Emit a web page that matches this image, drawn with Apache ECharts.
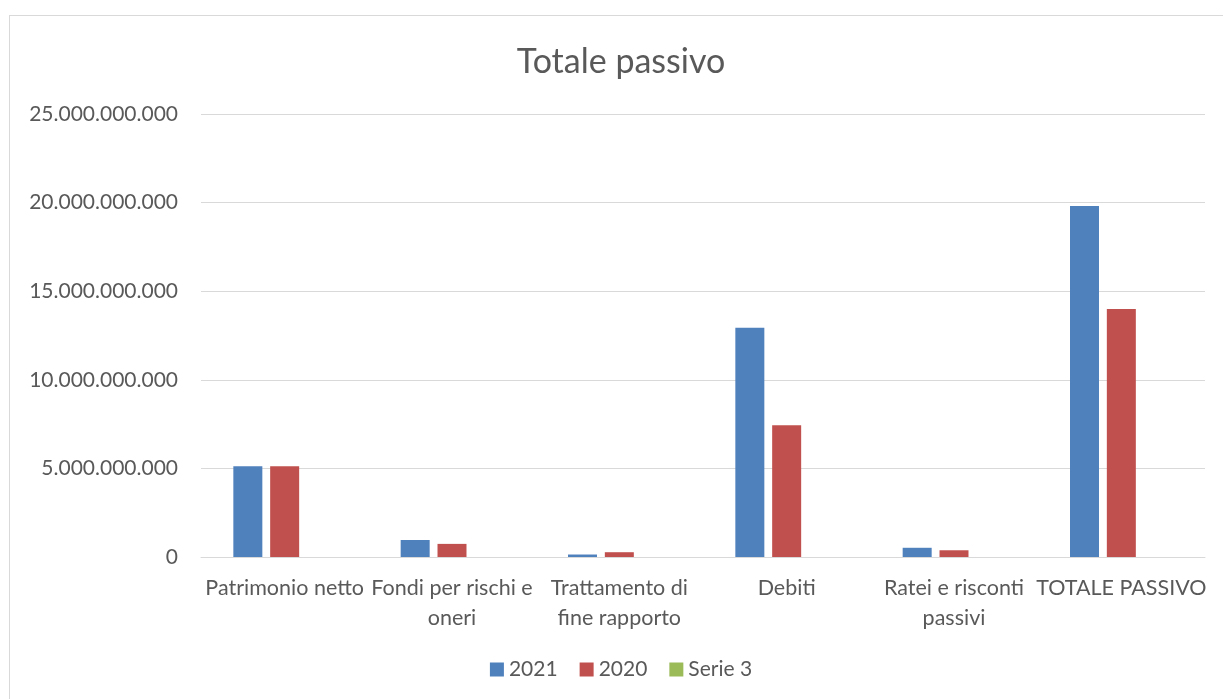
<!DOCTYPE html>
<html>
<head>
<meta charset="utf-8">
<script src="https://cdn.jsdelivr.net/npm/echarts@6/dist/echarts.min.js"></script>
<style>
  html, body { margin: 0; padding: 0; background: #ffffff; overflow: hidden; }
  #frame { position: absolute; left: 9px; top: 15px; width: 1240px; height: 720px; border: 1px solid #d9d9d9; box-sizing: border-box; }
  #chart { position: absolute; left: 0; top: 0; width: 1242px; height: 699px; }
</style>
</head>
<body>
<div id="frame"></div>
<div id="chart"></div>
<script>
// Voci dello stato patrimoniale (passivo)
const categories = [
  'Patrimonio netto',
  'Fondi per rischi e oneri',
  'Trattamento di fine rapporto',
  'Debiti',
  'Ratei e risconti passivi',
  'TOTALE PASSIVO'
];
// Etichette dell'asse con gli a capo
const categoryLabels = [
  'Patrimonio netto',
  'Fondi per rischi e\noneri',
  'Trattamento di\nfine rapporto',
  'Debiti',
  'Ratei e risconti\npassivi',
  'TOTALE PASSIVO'
];
const values2021 = [5120000000, 960000000, 140000000, 12940000000, 520000000, 19810000000];
const values2020 = [5120000000, 740000000, 270000000, 7430000000, 380000000, 14000000000];
const valuesSerie3 = [null, null, null, null, null, null];
const seriesNames = ['2021', '2020', 'Serie 3'];

const fontFamily = 'Lato, "Open Sans", sans-serif';
const textColor = '#595959';

function formatIt(v) {
  return String(Math.round(v)).replace(/\B(?=(\d{3})+(?!\d))/g, '.');
}

const chart = echarts.init(document.getElementById('chart'), null, { renderer: 'canvas' });
chart.setOption({
  animation: false,
  backgroundColor: 'transparent',
  title: {
    text: 'Totale passivo',
    left: 'center',
    top: 40,
    textStyle: { fontFamily, fontSize: 34, fontWeight: 'normal', color: textColor }
  },
  legend: {
    data: seriesNames,
    bottom: 14,
    left: 'center',
    itemWidth: 14,
    itemHeight: 14,
    itemGap: 22,
    icon: 'rect',
    textStyle: { fontFamily, fontSize: 21, color: textColor }
  },
  grid: { left: 201, right: 37, top: 114, bottom: 142, containLabel: false },
  xAxis: {
    type: 'category',
    data: categories,
    axisLine: { lineStyle: { color: '#d9d9d9', width: 1 } },
    axisTick: { show: false },
    axisLabel: {
      interval: 0,
      hideOverlap: false,
      margin: 16,
      fontFamily,
      fontSize: 21.5,
      lineHeight: 30,
      color: textColor,
      formatter: (v, i) => categoryLabels[i]
    }
  },
  yAxis: {
    type: 'value',
    min: 0,
    max: 25000000000,
    interval: 5000000000,
    axisLine: { show: false },
    axisTick: { show: false },
    splitLine: { lineStyle: { color: '#d9d9d9', width: 1 } },
    axisLabel: {
      margin: 23,
      fontFamily,
      fontSize: 21,
      color: textColor,
      formatter: v => formatIt(v)
    }
  },
  series: [
    { name: seriesNames[0], type: 'bar', data: values2021, barWidth: 29, barGap: '27%', itemStyle: { color: '#4F81BD' } },
    { name: seriesNames[1], type: 'bar', data: values2020, barWidth: 29, barGap: '27%', itemStyle: { color: '#C0504D' } },
    { name: seriesNames[2], type: 'bar', data: valuesSerie3, barWidth: 29, barGap: '27%', itemStyle: { color: '#9BBB59' } }
  ]
});
</script>
</body>
</html>
